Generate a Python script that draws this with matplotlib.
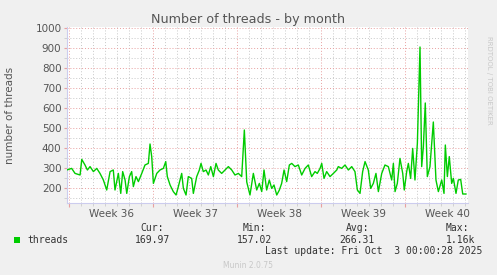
import matplotlib
matplotlib.use('Agg')
import matplotlib.pyplot as plt
from matplotlib.patches import Rectangle
from matplotlib.ticker import MultipleLocator, FixedLocator, NullFormatter

# days since Mon 1 Sep 2025 00:00
days = [-0.19, 0.22, 0.5, 0.92, 1.06, 1.33, 1.53, 1.75, 2.03, 2.31, 2.58, 2.86, 3.14, 3.42,
        3.69, 3.83, 4.11, 4.31, 4.47, 4.67, 4.81, 5.03, 5.22, 5.36, 5.58, 5.78, 6.06, 6.33,
        6.61, 6.75, 6.89, 7.03, 7.31, 7.58, 7.86, 8.06, 8.19, 8.42, 8.69, 8.92, 9.11, 9.39,
        9.53, 9.75, 9.94, 10.22, 10.36, 10.64, 10.86, 11.0, 11.19, 11.42, 11.61, 11.81,
        12.03, 12.25, 12.44, 12.72, 13.0, 13.28, 13.56, 13.83, 14.11, 14.39, 14.61, 14.81,
        15.08, 15.36, 15.64, 15.86, 16.06, 16.25, 16.47, 16.69, 16.89, 17.08, 17.31, 17.53,
        17.72, 17.92, 18.14, 18.36, 18.56, 18.83, 19.11, 19.39, 19.67, 19.94, 20.22, 20.5,
        20.69, 20.92, 21.06, 21.25, 21.47, 21.75, 22.03, 22.31, 22.44, 22.72, 23.0, 23.28,
        23.56, 23.83, 24.03, 24.25, 24.47, 24.67, 24.94, 25.14, 25.36, 25.58, 25.78, 26.06,
        26.33, 26.61, 26.89, 27.03, 27.17, 27.36, 27.58, 27.81, 27.94, 28.14, 28.28, 28.47,
        28.64, 28.83, 29.03, 29.25, 29.39, 29.53, 29.69, 29.86, 30.08, 30.36, 30.58, 30.78,
        31.06, 31.25, 31.36, 31.53, 31.69, 31.89, 32.03, 32.25, 32.44, 32.64, 32.81, 33.08]
threads = [290, 298, 273, 265, 343, 315, 290, 307, 282, 298, 273, 240, 190, 282,
           290, 190, 273, 173, 282, 240, 173, 257, 282, 207, 257, 232, 273, 315,
           323, 420, 357, 223, 273, 290, 298, 332, 257, 215, 182, 165, 207, 273,
           198, 165, 257, 248, 173, 257, 290, 323, 282, 290, 265, 307,
           257, 323, 290, 273, 290, 307, 290, 265, 273, 257, 490, 230,
           165, 273, 190, 223, 182, 290, 190, 240, 198, 215, 165, 190,
           223, 290, 232, 315, 323, 307, 315, 265, 298, 315, 257, 282,
           273, 298, 323, 248, 282, 257, 273, 290, 307, 298, 315, 290,
           307, 282, 190, 173, 282, 332, 290, 198, 223, 273, 182, 273,
           315, 307, 240, 323, 182, 223, 348, 273, 190, 282, 323, 248,
           398, 240, 423, 905, 307, 407, 625, 257, 307, 530, 240, 182,
           240, 173, 415, 257, 357, 223, 248, 173, 240, 243, 170, 170]

week_pos = [3.5, 10.5, 17.5, 24.5, 31.5]
week_labels = ['Week 36', 'Week 37', 'Week 38', 'Week 39', 'Week 40']

W, H = 497, 275


def fx(px):
    return px / W


def fy(py):
    return 1 - py / H


fig = plt.figure(figsize=(W / 100, H / 100), dpi=100, facecolor='#f0f0f0')
ax = fig.add_axes([fx(67), fy(203), fx(468) - fx(67), fy(27) - fy(203)])
ax.set_facecolor('white')

ax.plot(days, threads, color='#00cc00', lw=1.0, zorder=3)

ax.set_xlim(-0.17, 33.25)
ax.set_ylim(125, 1005)

ax.yaxis.set_major_locator(MultipleLocator(100))
ax.yaxis.set_minor_locator(MultipleLocator(50))
ax.set_yticks(range(200, 1001, 100))
ax.xaxis.set_major_locator(FixedLocator([0, 7, 14, 21, 28]))
ax.xaxis.set_minor_locator(MultipleLocator(1))
ax.xaxis.set_major_formatter(NullFormatter())

ax.grid(which='minor', color='#c8c8c8', ls=(0, (1, 2)), lw=0.7)
ax.grid(which='major', color='#e8a0a0', ls=(0, (1, 2)), lw=0.7)
ax.set_axisbelow(True)

for s in ['top', 'right']:
    ax.spines[s].set_visible(False)
for s in ['left', 'bottom']:
    ax.spines[s].set_color('#ccccee')

ax.tick_params(axis='both', which='both', labelsize=7.5, labelcolor='#555555')
ax.tick_params(axis='y', which='major', length=2, color='#e8a0a0', pad=2)
ax.tick_params(axis='y', which='minor', length=2, color='#cccccc')
ax.tick_params(axis='x', which='major', length=3, color='#e8a0a0')
ax.tick_params(axis='x', which='minor', length=2, color='#cccccc')

for p, lab in zip(week_pos, week_labels):
    ax.text(p, -0.06, lab, transform=ax.get_xaxis_transform(), ha='center', va='center',
            fontsize=7.5, color='#555555')

fig.text(fx(248), fy(19), 'Number of threads - by month', ha='center', va='center',
         fontsize=9.2, color='#555555')
fig.text(fx(10), fy(115), 'number of threads', rotation=90, ha='center', va='center',
         fontsize=7.5, color='#555555')
fig.text(fx(489), fy(80), 'RRDTOOL / TOBI OETIKER', rotation=270, ha='center', va='center',
         fontsize=5, color='#c8c8c8')

mono = 'DejaVu Sans Mono'
fig.patches.append(Rectangle((fx(14), fy(243)), fx(6), 6 / H, transform=fig.transFigure,
                             facecolor='#00cc00', edgecolor='none'))
fig.text(fx(27), fy(240), 'threads', ha='left', va='center', fontsize=7, family=mono, color='#333333')

cols = [(170, 'Cur:', '169.97'), (272, 'Min:', '157.02'), (375, 'Avg:', '266.31'), (475, 'Max:', '1.16k')]
for x, head, val in cols:
    fig.text(fx(x - 6), fy(228), head, ha='right', va='center', fontsize=7, family=mono, color='#333333')
    fig.text(fx(x), fy(240), val, ha='right', va='center', fontsize=7, family=mono, color='#333333')

fig.text(fx(482), fy(251), 'Last update: Fri Oct  3 00:00:28 2025', ha='right', va='center',
         fontsize=7, family=mono, color='#333333')
fig.text(fx(248), fy(265), 'Munin 2.0.75', ha='center', va='center', fontsize=5.5, color='#c8c8c8')

fig.savefig('out.png', dpi=100, facecolor=fig.get_facecolor())
